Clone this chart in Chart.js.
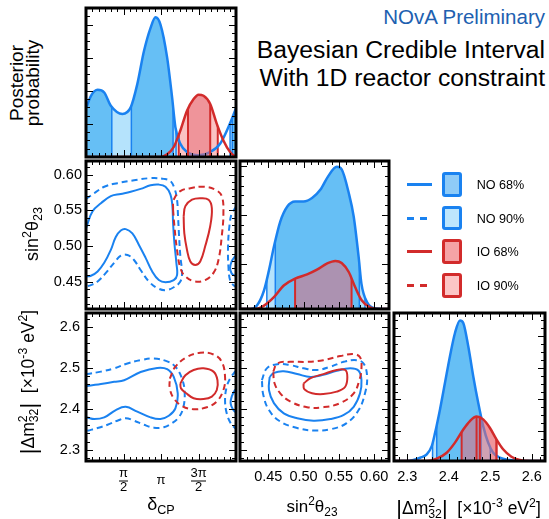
<!DOCTYPE html>
<html lang="en">
<head>
<meta charset="utf-8">
<title>NOvA Bayesian credible intervals</title>
<script src="https://cdn.jsdelivr.net/npm/chart.js@4.4.1/dist/chart.umd.min.js"></script>
<style>
  html, body { margin: 0; padding: 0; background: #fff; }
  #page { position: relative; width: 549px; height: 519px; overflow: hidden;
          font-family: "Liberation Sans", Arial, Helvetica, sans-serif; color: #000; }
  #page canvas { position: absolute; }
  .txt { position: absolute; white-space: nowrap; z-index: 2; }
  .rot { transform: rotate(-90deg); text-align: center; }
  .up { font-size: 70%; position: relative; top: -0.55em; }
  .dn { font-size: 70%; position: relative; top: 0.35em; }
  .bar { font-size: 125%; position: relative; top: 0.08em; }
  .lg { position: absolute; z-index: 2; }
</style>
</head>
<body>
<div id="page">
  <div class="txt" style="right:4px; top:7px; font-size:20.5px; line-height:20px; color:#2060b0;">NOvA Preliminary</div>
  <div class="txt" style="right:4px; top:38px; font-size:24.7px; line-height:24px;">Bayesian Credible Interval</div>
  <div class="txt" style="right:4px; top:65.5px; font-size:24.7px; line-height:24px;">With 1D reactor constraint</div>

  <div class="txt rot" style="left:-30px; top:67px; width:110px; height:32px; font-size:19px; line-height:16px;">Posterior<br>probability</div>
  <div class="txt rot" style="left:-8.5px; top:224px; width:80px; height:20px; font-size:18px; line-height:20px;">sin<span class="up">2</span>θ<span class="dn">23</span></div>
  <div class="txt rot" style="left:-58.5px; top:372px; width:170px; height:20px; font-size:17.5px; line-height:20px;"><span class="bar">|</span>Δm<span class="up">2</span><span class="dn" style="margin-left:-0.556em">32</span><span class="bar">|</span>&nbsp; [×10<span class="up">-3</span> eV<span class="up">2</span>]</div>

  <div class="txt" style="left:131px; top:494px; width:60px; text-align:center; font-size:18px; line-height:20px;">δ<span class="dn">CP</span></div>
  <div class="txt" style="left:272px; top:497px; width:80px; text-align:center; font-size:17px; line-height:20px;">sin<span class="up">2</span>θ<span class="dn">23</span></div>
  <div class="txt" style="left:383.5px; top:497px; width:170px; text-align:center; font-size:17.5px; line-height:20px;"><span class="bar">|</span>Δm<span class="up">2</span><span class="dn" style="margin-left:-0.556em">32</span><span class="bar">|</span>&nbsp; [×10<span class="up">-3</span> eV<span class="up">2</span>]</div>
</div>

<script>
// ---- axis ranges and ticks (δCP in units of π) ----
const deltaRange = [0, 2];
const sinXRange = [0.41, 0.621];
const sinYRange = [0.4127, 0.6189];
const dmXRange = [2.268, 2.632];
const dmYRange = [2.2724, 2.6344];

const deltaTicks = [0.5, 1, 1.5];
const deltaTickLabels = [['π', '2'], 'π', ['3π', '2']];
const sinTicks = [0.45, 0.50, 0.55, 0.60];
const sinTickLabels = ['0.45', '0.50', '0.55', '0.60'];
const dmTicks = [2.3, 2.4, 2.5, 2.6];
const dmTickLabels = ['2.3', '2.4', '2.5', '2.6'];
const deltaPostTicks = [0.222, 0.444, 0.667, 0.889];
const sinPostTicks = [0.307, 0.636, 0.966];
const dmPostTicks = [0.202, 0.416, 0.629, 0.843];

// ---- 1D posteriors [x, probability] ----
const noDeltaPost = [[0, 0.33], [0.013, 0.344], [0.066, 0.411], [0.155, 0.451], [0.243, 0.433], [0.331, 0.344],
  [0.486, 0.289], [0.596, 0.333], [0.684, 0.489], [0.773, 0.711], [0.861, 0.867], [0.927, 0.938], [0.993, 0.889],
  [1.082, 0.667], [1.148, 0.40], [1.192, 0.20], [1.258, 0.089], [1.347, 0.033], [1.501, 0.011], [1.656, 0.033],
  [1.788, 0.089], [1.898, 0.20], [1.987, 0.311], [2, 0.33]];
const ioDeltaPost = [[0, 0], [0.993, 0], [1.082, 0.018], [1.170, 0.067], [1.258, 0.178], [1.347, 0.311], [1.435, 0.389],
  [1.501, 0.418], [1.567, 0.411], [1.656, 0.356], [1.744, 0.222], [1.832, 0.111], [1.921, 0.033], [1.987, 0.004], [2, 0]];

const noSinPost = [[0.41, 0], [0.425, 0], [0.434, 0.023], [0.444, 0.125], [0.451, 0.261], [0.458, 0.42], [0.467, 0.591],
  [0.477, 0.693], [0.488, 0.727], [0.500, 0.727], [0.512, 0.75], [0.524, 0.807], [0.535, 0.898], [0.547, 0.961],
  [0.554, 0.943], [0.564, 0.784], [0.571, 0.625], [0.578, 0.352], [0.582, 0.17], [0.590, 0.045], [0.599, 0.007],
  [0.618, 0], [0.621, 0]];
const ioSinPost = [[0.41, 0], [0.432, 0], [0.444, 0.023], [0.458, 0.08], [0.472, 0.159], [0.488, 0.205], [0.505, 0.234],
  [0.519, 0.266], [0.533, 0.307], [0.545, 0.325], [0.554, 0.311], [0.564, 0.25], [0.573, 0.148], [0.582, 0.061],
  [0.594, 0.011], [0.604, 0], [0.621, 0]];

const noDmPost = [[2.268, 0], [2.30, 0], [2.315, 0.007], [2.331, 0.022], [2.347, 0.045], [2.359, 0.10], [2.367, 0.19],
  [2.379, 0.35], [2.391, 0.53], [2.403, 0.71], [2.415, 0.865], [2.427, 0.95], [2.435, 0.933], [2.447, 0.775],
  [2.459, 0.573], [2.471, 0.393], [2.483, 0.236], [2.495, 0.124], [2.507, 0.056], [2.523, 0.022], [2.547, 0.007],
  [2.571, 0], [2.632, 0]];
const ioDmPost = [[2.268, 0], [2.347, 0], [2.371, 0.016], [2.395, 0.056], [2.415, 0.124], [2.435, 0.213], [2.451, 0.27],
  [2.467, 0.30], [2.483, 0.281], [2.499, 0.225], [2.515, 0.146], [2.531, 0.079], [2.551, 0.029], [2.571, 0.007],
  [2.595, 0], [2.632, 0]];

// ---- credible intervals on the 1D posteriors ----
const noDelta68 = [[0, 0.344], [0.605, 1.161], [1.95, 2]];
const noDelta90 = [[0, 1.201], [1.921, 2]];
const ioDelta68 = [[1.36, 1.656]];
const ioDelta90 = [[1.236, 1.757]];
const noSin68 = [[0.460, 0.579]];
const noSin90 = [[0.448, 0.587]];
const ioSin68 = [[0.488, 0.568]];
const ioSin90 = [[0.452, 0.585]];
const noDm68 = [[2.371, 2.478]];
const noDm90 = [[2.361, 2.50]];
const ioDm68 = [[2.431, 2.467], [2.467, 2.475], [2.475, 2.515]];
const ioDm90 = [[2.42, 2.515]];

// ---- 2D contours: δCP vs sin²θ23 ----
const noDeltaSin68 = [[0, 0.525], [0.013, 0.529], [0.088, 0.549], [0.199, 0.560], [0.331, 0.570], [0.464, 0.573],
  [0.596, 0.576], [0.728, 0.580], [0.861, 0.585], [0.971, 0.586], [1.060, 0.583], [1.126, 0.572], [1.152, 0.556],
  [1.161, 0.532], [1.179, 0.504], [1.205, 0.477], [1.214, 0.460], [1.170, 0.453], [1.060, 0.450], [0.971, 0.453],
  [0.883, 0.465], [0.795, 0.484], [0.706, 0.502], [0.618, 0.518], [0.530, 0.524], [0.464, 0.522], [0.397, 0.513],
  [0.331, 0.495], [0.243, 0.477], [0.155, 0.465], [0.066, 0.459], [0, 0.458]];
const noDeltaSin68Wrap = [[2, 0.488], [1.987, 0.486], [1.943, 0.479], [1.921, 0.470], [1.943, 0.462], [1.987, 0.459], [2, 0.458]];
const noDeltaSin90 = [[0, 0.566], [0.013, 0.567], [0.110, 0.574], [0.243, 0.583], [0.419, 0.588], [0.640, 0.592],
  [0.861, 0.595], [1.038, 0.594], [1.126, 0.591], [1.179, 0.581], [1.214, 0.565], [1.227, 0.542], [1.241, 0.514],
  [1.258, 0.486], [1.280, 0.463], [1.258, 0.451], [1.170, 0.443], [1.060, 0.439], [0.949, 0.442], [0.839, 0.451],
  [0.728, 0.467], [0.640, 0.481], [0.552, 0.488], [0.464, 0.487], [0.375, 0.477], [0.265, 0.463], [0.155, 0.451],
  [0.066, 0.446], [0, 0.444]];
const noDeltaSin90Wrap = [[2, 0.556], [1.987, 0.553], [1.943, 0.546], [1.912, 0.528], [1.894, 0.500], [1.899, 0.472],
  [1.921, 0.453], [1.965, 0.446], [2, 0.444]];
const ioDeltaSin68 = [[1.302, 0.542], [1.325, 0.556], [1.413, 0.565], [1.523, 0.567], [1.634, 0.565], [1.678, 0.553],
  [1.656, 0.528], [1.589, 0.500], [1.523, 0.479], [1.457, 0.474], [1.391, 0.479], [1.347, 0.495], [1.311, 0.518],
  [1.302, 0.542]];
const ioDeltaSin90 = [[1.161, 0.551], [1.170, 0.565], [1.258, 0.577], [1.391, 0.581], [1.567, 0.583], [1.722, 0.579],
  [1.810, 0.570], [1.832, 0.546], [1.810, 0.514], [1.766, 0.481], [1.700, 0.463], [1.589, 0.453], [1.457, 0.451],
  [1.325, 0.458], [1.258, 0.470], [1.214, 0.495], [1.179, 0.528], [1.161, 0.551]];

// ---- 2D contours: δCP vs |Δm²32| ----
const noDeltaDm68 = [[0, 2.455], [0.013, 2.456], [0.199, 2.461], [0.375, 2.466], [0.508, 2.470], [0.728, 2.490],
  [0.949, 2.500], [1.082, 2.497], [1.170, 2.478], [1.223, 2.438], [1.192, 2.401], [1.104, 2.383], [0.993, 2.375],
  [0.861, 2.379], [0.684, 2.393], [0.530, 2.405], [0.397, 2.397], [0.243, 2.379], [0.110, 2.375], [0.013, 2.379],
  [0, 2.379]];
const noDeltaDm68Wrap = [[2, 2.447], [1.987, 2.446], [1.943, 2.430], [1.929, 2.413], [1.965, 2.397], [1.987, 2.393], [2, 2.392]];
const noDeltaDm90 = [[0, 2.484], [0.013, 2.485], [0.199, 2.491], [0.375, 2.499], [0.552, 2.511], [0.728, 2.519],
  [0.905, 2.523], [1.082, 2.516], [1.192, 2.503], [1.280, 2.474], [1.316, 2.438], [1.294, 2.401], [1.236, 2.379],
  [1.148, 2.365], [1.038, 2.355], [0.905, 2.354], [0.773, 2.361], [0.640, 2.371], [0.530, 2.377], [0.419, 2.371],
  [0.287, 2.361], [0.155, 2.353], [0.013, 2.346], [0, 2.345]];
const noDeltaDm90Wrap = [[2, 2.492], [1.987, 2.491], [1.921, 2.474], [1.876, 2.454], [1.854, 2.422], [1.876, 2.389],
  [1.929, 2.365], [1.987, 2.353], [2, 2.352]];
const ioDeltaDm68 = [[1.258, 2.462], [1.325, 2.482], [1.435, 2.495], [1.567, 2.499], [1.700, 2.491], [1.753, 2.470],
  [1.744, 2.446], [1.678, 2.430], [1.567, 2.424], [1.435, 2.426], [1.338, 2.438], [1.267, 2.450], [1.258, 2.462]];
const ioDeltaDm90 = [[1.117, 2.474], [1.192, 2.503], [1.347, 2.527], [1.523, 2.537], [1.700, 2.533], [1.810, 2.515],
  [1.854, 2.478], [1.832, 2.446], [1.744, 2.418], [1.611, 2.404], [1.435, 2.399], [1.280, 2.407], [1.170, 2.426],
  [1.117, 2.450], [1.117, 2.474]];

// ---- 2D contours: sin²θ23 vs |Δm²32| ----
const noSinDm68 = [[0.452, 2.478], [0.458, 2.488], [0.472, 2.492], [0.491, 2.485], [0.510, 2.478], [0.528, 2.483],
  [0.547, 2.493], [0.566, 2.499], [0.578, 2.493], [0.582, 2.470], [0.580, 2.438], [0.571, 2.405], [0.557, 2.385],
  [0.538, 2.375], [0.514, 2.371], [0.491, 2.377], [0.472, 2.389], [0.458, 2.414], [0.451, 2.446], [0.452, 2.478]];
const noSinDm90 = [[0.441, 2.470], [0.448, 2.499], [0.463, 2.509], [0.481, 2.507], [0.500, 2.499], [0.519, 2.495],
  [0.538, 2.503], [0.557, 2.515], [0.575, 2.519], [0.585, 2.511], [0.590, 2.478], [0.587, 2.438], [0.578, 2.397],
  [0.561, 2.365], [0.538, 2.350], [0.514, 2.347], [0.491, 2.353], [0.467, 2.369], [0.451, 2.397], [0.443, 2.434],
  [0.441, 2.470]];
const ioSinDm68 = [[0.500, 2.462], [0.510, 2.475], [0.528, 2.485], [0.547, 2.495], [0.559, 2.495], [0.562, 2.478],
  [0.559, 2.454], [0.547, 2.442], [0.528, 2.436], [0.512, 2.438], [0.501, 2.448], [0.500, 2.462]];
const ioSinDm90 = [[0.457, 2.491], [0.463, 2.511], [0.481, 2.515], [0.505, 2.515], [0.528, 2.519], [0.552, 2.529],
  [0.571, 2.534], [0.580, 2.526], [0.582, 2.499], [0.579, 2.470], [0.571, 2.438], [0.552, 2.414], [0.528, 2.404],
  [0.505, 2.404], [0.481, 2.418], [0.467, 2.438], [0.459, 2.462], [0.457, 2.491]];

// ---- styling ----
const BLUE = '#1a82f0';
const BLUE68 = '#66bff5';
const BLUE90 = '#b5e3fc';
const RED = '#d22b2b';
const RED68 = 'rgba(230,110,120,0.55)';
const RED90 = '#fac3c3';
const FONT = '"Liberation Sans", Arial, Helvetica, sans-serif';

const page = document.getElementById('page');

const minorTicks = (origin, step, min, max) => {
  const out = [];
  for (let k = Math.ceil((min - origin) / step - 1e-9); origin + k * step <= max + 1e-9; k++) out.push(origin + k * step);
  return out;
};

const paintBands = (chart, index, bands, edgeColor) => {
  const {ctx, chartArea: area, scales: {x, y}} = chart;
  const meta = chart.getDatasetMeta(index);
  const line = meta.dataset;
  const pts = meta.data;
  const base = y.getPixelForValue(0);
  const trace = () => {
    ctx.beginPath();
    if (line && typeof line.path === 'function') {
      line.updateControlPoints(area, 'x');
      line.path(ctx);
    } else {
      pts.forEach((p, k) => k ? ctx.lineTo(p.x, p.y) : ctx.moveTo(p.x, p.y));
    }
    ctx.lineTo(pts[pts.length - 1].x, base);
    ctx.lineTo(pts[0].x, base);
    ctx.closePath();
  };
  bands.forEach(band => {
    ctx.save();
    trace();
    ctx.clip();
    ctx.beginPath();
    band.ranges.forEach(([lo, hi]) => {
      const a = x.getPixelForValue(lo);
      const b = x.getPixelForValue(hi);
      ctx.rect(a, area.top, b - a, area.bottom - area.top);
    });
    ctx.fillStyle = band.color;
    ctx.fill();
    ctx.beginPath();
    band.ranges.flat().forEach(v => {
      if (v <= x.min || v >= x.max) return;
      const p = x.getPixelForValue(v);
      ctx.moveTo(p, area.top);
      ctx.lineTo(p, area.bottom);
    });
    ctx.strokeStyle = edgeColor;
    ctx.lineWidth = band.edgeWidth || 1.5;
    ctx.stroke();
    ctx.restore();
  });
};

const drawFrame = (chart, o) => {
  const {ctx, chartArea: a, scales: {x, y}} = chart;
  ctx.save();
  ctx.strokeStyle = '#000';
  ctx.lineWidth = 1;
  ctx.beginPath();
  const tx = (v, len) => {
    const p = Math.round(x.getPixelForValue(v)) + 0.5;
    ctx.moveTo(p, a.bottom); ctx.lineTo(p, a.bottom - len);
    ctx.moveTo(p, a.top); ctx.lineTo(p, a.top + len);
  };
  const ty = (v, len) => {
    const p = Math.round(y.getPixelForValue(v)) + 0.5;
    ctx.moveTo(a.left, p); ctx.lineTo(a.left + len, p);
    ctx.moveTo(a.right, p); ctx.lineTo(a.right - len, p);
  };
  minorTicks(o.xMajor[0], o.xMinor, x.min, x.max).forEach(v => tx(v, 4));
  o.xMajor.forEach(v => tx(v, 7));
  minorTicks(o.yMajor[0], o.yMinor, y.min, y.max).forEach(v => ty(v, 4));
  o.yMajor.forEach(v => ty(v, 7));
  (o.fracBars || []).forEach(([v, w]) => {
    const p = x.getPixelForValue(v);
    ctx.moveTo(p - w / 2, a.bottom + o.fracY + 0.5);
    ctx.lineTo(p + w / 2, a.bottom + o.fracY + 0.5);
  });
  ctx.stroke();
  ctx.lineWidth = 3;
  ctx.strokeRect(a.left, a.top, a.right - a.left, a.bottom - a.top);
  ctx.restore();
};

const framePlugin = {
  id: 'frame',
  beforeDatasetsDraw(chart) {
    chart.data.datasets.forEach((ds, i) => {
      if (ds.underBands) paintBands(chart, i, ds.underBands, ds.edgeColor);
    });
  },
  beforeDatasetDraw(chart, args) {
    const ds = chart.data.datasets[args.index];
    if (ds.bands) paintBands(chart, args.index, ds.bands, ds.edgeColor);
  },
  afterDatasetsDraw(chart, args, opts) {
    drawFrame(chart, opts);
  }
};

const toXY = pairs => pairs.map(([x, y]) => ({x, y}));

const curve = (pairs, color, extra) => Object.assign({
  data: toXY(pairs), borderColor: color, borderWidth: 2.5, pointRadius: 0,
  cubicInterpolationMode: 'monotone', fill: false, edgeColor: color
}, extra);

const contour = (pairs, color, dashed, order) => ({
  data: toXY(pairs), borderColor: color, borderWidth: 2, borderDash: dashed ? [6, 4] : [],
  pointRadius: 0, tension: 0.4, fill: false, order
});

const axis = (range, ticks, labels, size, horizontal, tickOpts) => ({
  type: 'linear', min: range[0], max: range[1],
  display: !!labels,
  grid: {display: false, drawTicks: false},
  border: {display: false},
  afterBuildTicks: s => { s.ticks = ticks.map(v => ({value: v})); },
  afterFit: s => {
    if (horizontal) s.height = size; else s.width = size;
    s.paddingLeft = 0; s.paddingRight = 0; s.paddingTop = 0; s.paddingBottom = 0;
  },
  ticks: Object.assign({
    autoSkip: false, maxRotation: 0, minRotation: 0, color: '#000',
    font: {family: FONT, size: 14.5},
    callback: (v, i) => labels ? labels[i] : ''
  }, tickOpts)
});

const cols = [[86, 236], [240, 389], [394, 545]];
const rows = [[8, 157], [161, 309], [313, 461]];

const panel = (c, r, spec) => {
  const pad = 3;
  const L = spec.yLabels ? 50 : 0;
  const B = spec.xLabels ? 40 : 0;
  const [x0, x1] = cols[c];
  const [y0, y1] = rows[r];
  const canvas = document.createElement('canvas');
  canvas.width = (x1 - x0) + L + 2 * pad;
  canvas.height = (y1 - y0) + B + 2 * pad;
  canvas.style.left = (x0 - pad - L) + 'px';
  canvas.style.top = (y0 - pad) + 'px';
  canvas.style.width = canvas.width + 'px';
  canvas.style.height = canvas.height + 'px';
  page.appendChild(canvas);
  return new Chart(canvas, {
    type: 'line',
    data: {datasets: spec.datasets},
    options: {
      responsive: false,
      animation: false,
      devicePixelRatio: 1,
      events: [],
      layout: {padding: pad},
      plugins: {
        legend: {display: false},
        tooltip: {enabled: false},
        frame: spec.frame
      },
      scales: {
        x: axis(spec.xRange, spec.frame.xMajor, spec.xLabels, B, true, spec.xTickOpts),
        y: axis(spec.yRange, spec.frame.yMajor, spec.yLabels, L, false, spec.yTickOpts)
      }
    },
    plugins: [framePlugin]
  });
};

const deltaAxisOpts = {crossAlign: 'center', padding: 12.5, font: {family: FONT, size: 13, lineHeight: 1.04}};

// top left: δCP posterior
panel(0, 0, {
  xRange: deltaRange, yRange: [0, 1],
  frame: {xMajor: deltaTicks, xMinor: 1 / 12, yMajor: deltaPostTicks, yMinor: 0.0556},
  datasets: [
    curve(noDeltaPost, BLUE, {order: 2, bands: [{ranges: noDelta90, color: BLUE90}, {ranges: noDelta68, color: BLUE68}]}),
    curve(ioDeltaPost, RED, {order: 1, underBands: [{ranges: ioDelta90, color: RED90, edgeWidth: 2}],
      bands: [{ranges: ioDelta68, color: RED68, edgeWidth: 2}]})
  ]
});

// middle left: δCP vs sin²θ23
panel(0, 1, {
  xRange: deltaRange, yRange: sinYRange, yLabels: sinTickLabels, yTickOpts: {padding: 4},
  frame: {xMajor: deltaTicks, xMinor: 1 / 12, yMajor: sinTicks, yMinor: 0.01},
  datasets: [
    contour(noDeltaSin90, BLUE, true, 4), contour(noDeltaSin90Wrap, BLUE, true, 4),
    contour(noDeltaSin68, BLUE, false, 3), contour(noDeltaSin68Wrap, BLUE, false, 3),
    contour(ioDeltaSin90, RED, true, 2), contour(ioDeltaSin68, RED, false, 1)
  ]
});

// bottom left: δCP vs |Δm²32|
panel(0, 2, {
  xRange: deltaRange, yRange: dmYRange, xLabels: deltaTickLabels, yLabels: dmTickLabels,
  xTickOpts: deltaAxisOpts, yTickOpts: {padding: 6},
  frame: {xMajor: deltaTicks, xMinor: 1 / 12, yMajor: dmTicks, yMinor: 0.02, fracBars: [[0.5, 9], [1.5, 15]], fracY: 19.5},
  datasets: [
    contour(noDeltaDm90, BLUE, true, 4), contour(noDeltaDm90Wrap, BLUE, true, 4),
    contour(noDeltaDm68, BLUE, false, 3), contour(noDeltaDm68Wrap, BLUE, false, 3),
    contour(ioDeltaDm90, RED, true, 2), contour(ioDeltaDm68, RED, false, 1)
  ]
});

// centre: sin²θ23 posterior
panel(1, 1, {
  xRange: sinXRange, yRange: [0, 1],
  frame: {xMajor: sinTicks, xMinor: 0.01, yMajor: sinPostTicks, yMinor: 0.0659},
  datasets: [
    curve(noSinPost, BLUE, {order: 2, bands: [{ranges: noSin90, color: BLUE90}, {ranges: noSin68, color: BLUE68}]}),
    curve(ioSinPost, RED, {order: 1, underBands: [{ranges: ioSin90, color: RED90, edgeWidth: 2}],
      bands: [{ranges: ioSin68, color: RED68, edgeWidth: 2}]})
  ]
});

// bottom centre: sin²θ23 vs |Δm²32|
panel(1, 2, {
  xRange: sinXRange, yRange: dmYRange, xLabels: sinTickLabels, xTickOpts: {padding: 7},
  frame: {xMajor: sinTicks, xMinor: 0.01, yMajor: dmTicks, yMinor: 0.02},
  datasets: [
    contour(noSinDm90, BLUE, true, 4), contour(noSinDm68, BLUE, false, 3),
    contour(ioSinDm90, RED, true, 2), contour(ioSinDm68, RED, false, 1)
  ]
});

// bottom right: |Δm²32| posterior
panel(2, 2, {
  xRange: dmXRange, yRange: [0, 1], xLabels: dmTickLabels, xTickOpts: {padding: 7},
  frame: {xMajor: dmTicks, xMinor: 0.02, yMajor: dmPostTicks, yMinor: 0.0534},
  datasets: [
    curve(noDmPost, BLUE, {order: 2, bands: [{ranges: noDm90, color: BLUE90}, {ranges: noDm68, color: BLUE68}]}),
    curve(ioDmPost, RED, {order: 1, underBands: [{ranges: ioDm90, color: RED90, edgeWidth: 2}],
      bands: [{ranges: ioDm68, color: RED68, edgeWidth: 2}]})
  ]
});

// legend
const legendLabels = ['NO 68%', 'NO 90%', 'IO 68%', 'IO 90%'];
const legendStyle = [
  {line: BLUE, dashed: false, fill: '#8fcbf7'},
  {line: BLUE, dashed: true, fill: '#bde6fd'},
  {line: RED, dashed: false, fill: '#f5a3a6'},
  {line: RED, dashed: true, fill: '#fcc5c5'}
];
const addBox = (css, text) => {
  const d = document.createElement('div');
  d.className = 'lg';
  d.style.cssText = css;
  if (text) d.textContent = text;
  page.appendChild(d);
};
legendLabels.forEach((label, i) => {
  const base = 189.3 + i * 33.7;
  const mid = base - 5;
  const st = legendStyle[i];
  if (st.dashed) {
    addBox(`left:406.7px;top:${mid - 1.5}px;width:7px;height:3px;background:${st.line}`);
    addBox(`left:420px;top:${mid - 1.5}px;width:7px;height:3px;background:${st.line}`);
  } else {
    addBox(`left:406.7px;top:${mid - 1.5}px;width:25px;height:3px;background:${st.line}`);
  }
  addBox(`left:441.7px;top:${mid - 12.3}px;width:20.7px;height:24.7px;box-sizing:border-box;border:3px solid ${st.line};border-radius:3px;background:${st.fill}`);
  addBox(`left:476.7px;top:${base - 11.4}px;font-size:12.6px;line-height:14px;white-space:nowrap`, label);
});
</script>
</body>
</html>
